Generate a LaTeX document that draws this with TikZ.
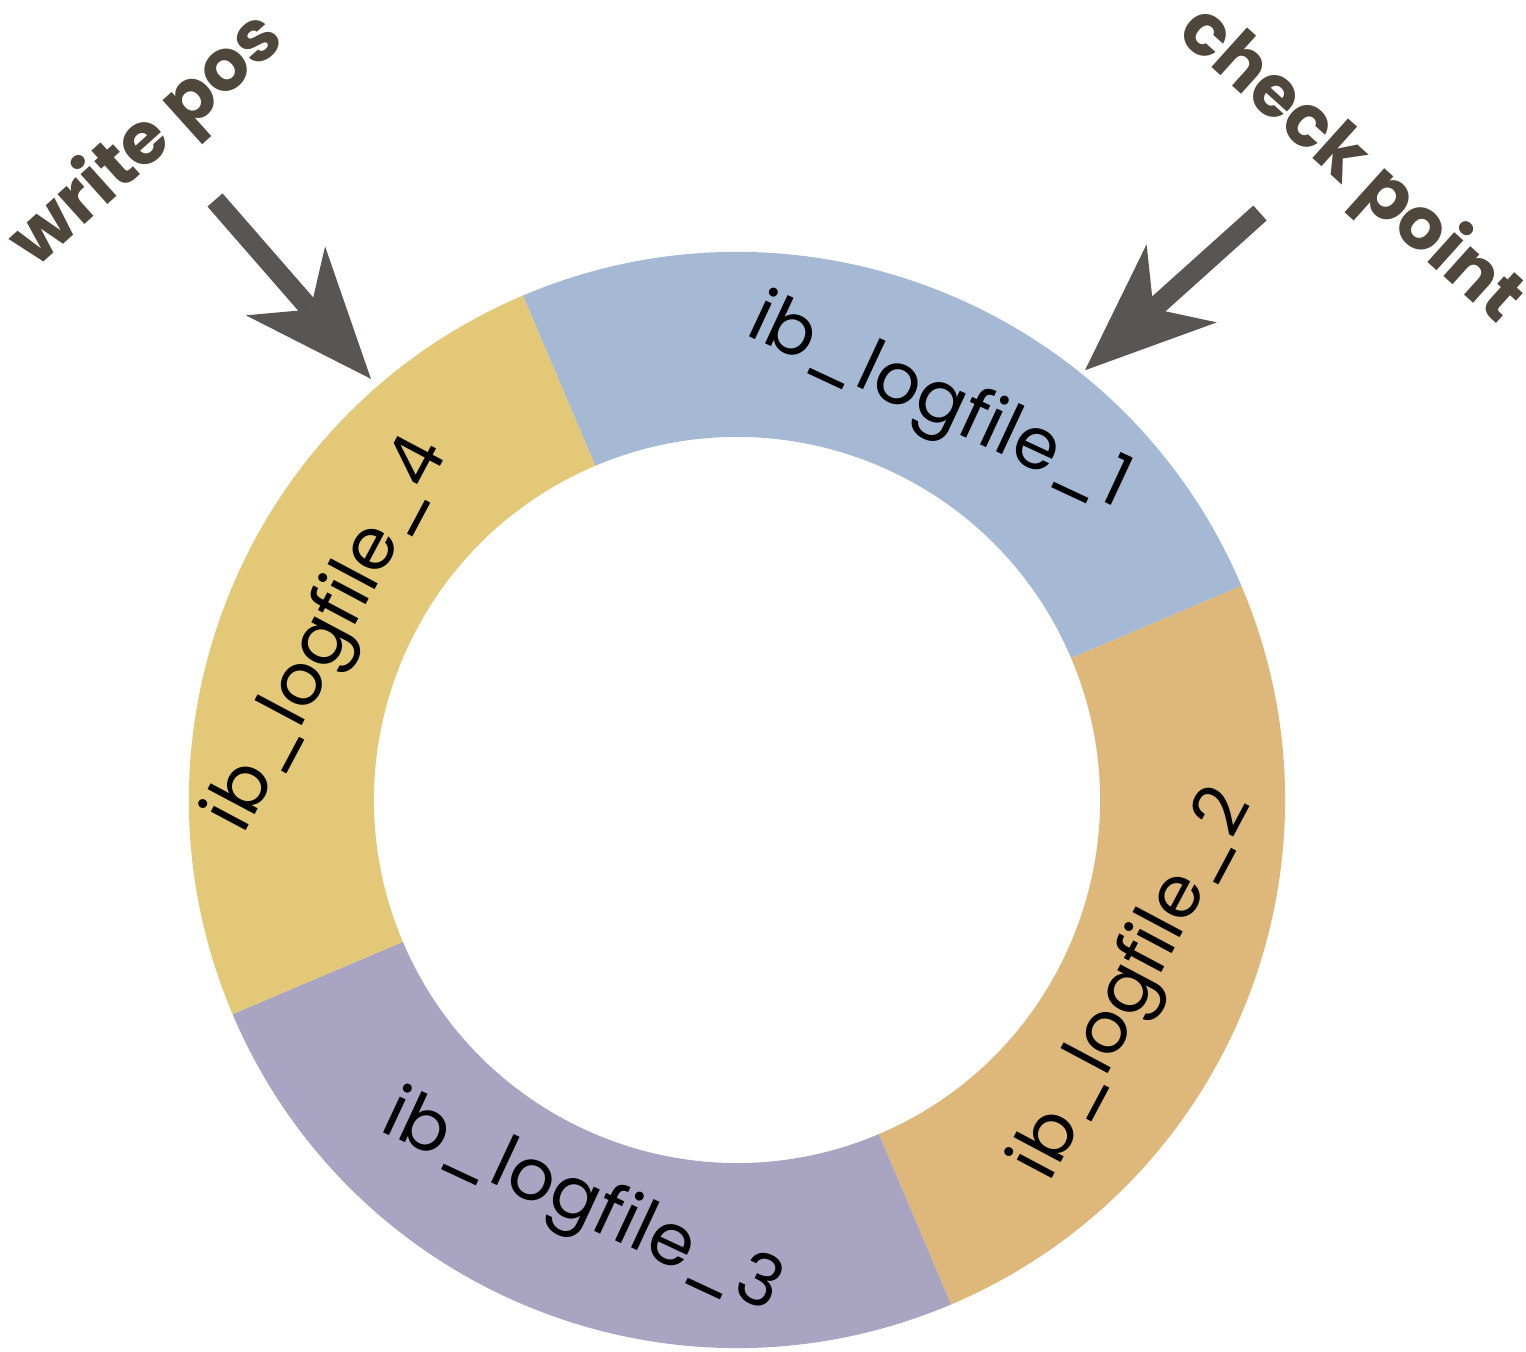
\documentclass[tikz,border=0pt]{standalone}
\usepackage{fontspec}
\setmainfont{Poppins}
\usepackage{tikz}
\usetikzlibrary{
arrows.meta,
calc
}
\definecolor{logblue}{HTML}{A5B9D5}
\definecolor{logtan}{HTML}{DDB87A}
\definecolor{loglav}{HTML}{A8A4C1}
\definecolor{logyellow}{HTML}{E3C878}
\definecolor{pointergray}{HTML}{595553}
\definecolor{tagbrown}{HTML}{4F473B}

\begin{document}
\begin{tikzpicture}[
filelabel/.style={
font=\fontsize{20.5}{22}\selectfont,
text=black,
inner sep=0pt
},
tag/.style={
font=\fontsize{20.5}{22}\selectfont\bfseries,
text=tagbrown,
inner sep=0pt
},
pointer/.style={
-{Stealth[length=1.3cm,width=1.05cm,inset=0.38cm,line width=0pt]},
line width=0.2cm,
draw=pointergray
}
]
\useasboundingbox (0,0) rectangle (15.26,-13.52);

\coordinate (c) at (7.37,-8.00);

% ring segments
\fill[logblue] ($(c)+(23:5.48)$) arc[start angle=23,end angle=113,radius=5.48]
  -- ($(c)+(113:3.63)$) arc[start angle=113,end angle=23,radius=3.63] -- cycle;
\fill[logtan] ($(c)+(-67:5.48)$) arc[start angle=-67,end angle=23,radius=5.48]
  -- ($(c)+(23:3.63)$) arc[start angle=23,end angle=-67,radius=3.63] -- cycle;
\fill[loglav] ($(c)+(-157:5.48)$) arc[start angle=-157,end angle=-67,radius=5.48]
  -- ($(c)+(-67:3.63)$) arc[start angle=-67,end angle=-157,radius=3.63] -- cycle;
\fill[logyellow] ($(c)+(113:5.48)$) arc[start angle=113,end angle=203,radius=5.48]
  -- ($(c)+(203:3.63)$) arc[start angle=203,end angle=113,radius=3.63] -- cycle;

% file names
\node[filelabel, rotate=-25] (log1) at ($(c)+(63:4.43)$) {ib\_logfile\_1};
\node[filelabel, rotate=62] (log2) at ($(c)+(-25:4.39)$) {ib\_logfile\_2};
\node[filelabel, rotate=-25] (log3) at ($(c)+(-111:4.34)$) {ib\_logfile\_3};
\node[filelabel, rotate=62] (log4) at ($(c)+(158:4.39)$) {ib\_logfile\_4};

% pointers
\node[tag, rotate=42] (writepos) at (1.48,-1.42) {write pos};
\node[tag, rotate=-42] (checkpoint) at (13.50,-1.66) {check point};

\coordinate (wstart) at (2.15,-2.00);
\coordinate (wtip) at ($(c)+(131:5.58)$);
\coordinate (cstart) at (12.60,-2.13);
\coordinate (ctip) at ($(c)+(51:5.53)$);

\draw[pointer] (wstart) -- (wtip);
\draw[pointer] (cstart) -- (ctip);

\end{tikzpicture}
\end{document}
